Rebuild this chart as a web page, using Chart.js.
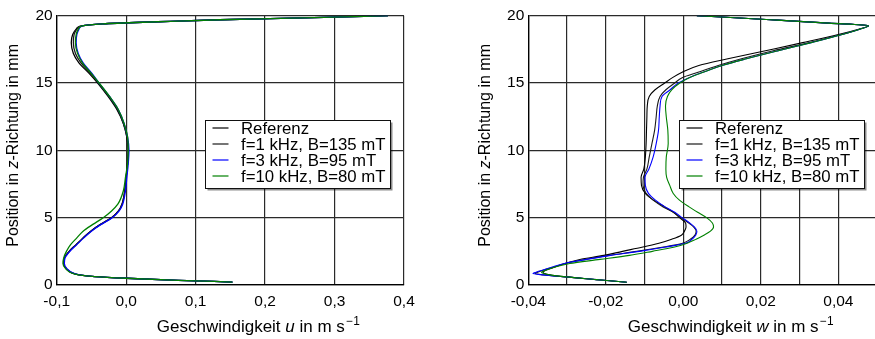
<!DOCTYPE html>
<html lang="de">
<head>
<meta charset="utf-8">
<title>Geschwindigkeitsprofile</title>
<script src="https://cdn.jsdelivr.net/npm/chart.js@4.4.1/dist/chart.umd.min.js"></script>
<style>
  html, body { margin: 0; padding: 0; overflow: hidden; background: #fff; }
  #wrap { position: relative; width: 875px; height: 339px; overflow: hidden; }
  #chartU { position: absolute; left: 0; top: 0; }
  #chartW { position: absolute; left: 440px; top: 0; }
</style>
</head>
<body>
<div id="wrap">
  <canvas id="chartU" width="440" height="339"></canvas>
  <canvas id="chartW" width="445" height="339"></canvas>
</div>
<script>
'use strict';

//***************** Data *****************
const seriesNames = ['Referenz', 'f=1 kHz, B=135 mT', 'f=3 kHz, B=95 mT', 'f=10 kHz, B=80 mT'];
const seriesColors = ['#000000', '#1a1a1a', '#0000ff', '#008000'];

// left plot: position z in mm, velocity u in m/s
const zLeft = [0.22, 0.35, 0.5, 0.62, 0.75, 0.9, 1.2, 1.6, 2.0, 2.5, 3.0, 3.5, 4.0, 4.5, 5.0, 5.5, 6.0, 7.0, 8.0, 9.0,
  10.0, 11.0, 12.0, 13.0, 14.0, 15.0, 15.7, 16.5, 17.2, 18.0, 18.6, 19.0, 19.25, 19.4, 19.55, 19.7, 19.85, 20.0];
const uRef = [0.153, 0.075, 0.0, -0.045, -0.068, -0.078, -0.086, -0.090, -0.089, -0.082, -0.072, -0.062, -0.051, -0.037, -0.021, -0.011, -0.006, -0.002, 0.0, 0.002,
  0.003, 0.001, -0.004, -0.013, -0.026, -0.041, -0.053, -0.068, -0.076, -0.079, -0.077, -0.072, -0.064, -0.034, 0.045, 0.135, 0.27, 0.377];
const u1k = [0.153, 0.075, 0.0, -0.045, -0.068, -0.078, -0.086, -0.090, -0.089, -0.082, -0.072, -0.062, -0.051, -0.037, -0.021, -0.011, -0.006, -0.002, 0.0, 0.002,
  0.003, 0.001, -0.004, -0.012, -0.025, -0.040, -0.051, -0.065, -0.073, -0.076, -0.075, -0.071, -0.064, -0.034, 0.045, 0.135, 0.27, 0.377];
const u3k = [0.153, 0.075, 0.0, -0.045, -0.067, -0.077, -0.085, -0.089, -0.088, -0.081, -0.071, -0.061, -0.050, -0.036, -0.020, -0.010, -0.005, -0.001, 0.001, 0.003,
  0.004, 0.002, -0.003, -0.011, -0.024, -0.039, -0.049, -0.062, -0.069, -0.072, -0.071, -0.068, -0.063, -0.034, 0.045, 0.135, 0.27, 0.377];
const u10k = [0.153, 0.075, 0.0, -0.045, -0.068, -0.079, -0.087, -0.091, -0.090, -0.086, -0.080, -0.071, -0.062, -0.048, -0.033, -0.021, -0.012, -0.004, -0.001, 0.002,
  0.003, 0.002, -0.003, -0.011, -0.024, -0.039, -0.050, -0.063, -0.070, -0.073, -0.072, -0.069, -0.063, -0.034, 0.045, 0.135, 0.27, 0.377];

// right plot: position z in mm, velocity w in m/s
const zRight = [0.2, 0.4, 0.6, 0.75, 0.85, 0.95, 1.1, 1.3, 1.6, 1.9, 2.2, 2.5, 2.8, 3.1, 3.4, 3.7, 4.0, 4.3, 4.6, 5.0,
  5.4, 5.8, 6.3, 6.8, 7.4, 8.0, 8.6, 9.5, 10.5, 11.5, 12.5, 13.3, 14.0, 14.5, 15.0, 15.4, 15.8, 16.3, 16.8, 17.4,
  18.0, 18.6, 19.0, 19.25, 19.45, 19.7, 20.0];
const wRef = [-0.0146, -0.0224, -0.0302, -0.0345, -0.0358, -0.0362, -0.0355, -0.0335, -0.0305, -0.0267, -0.0205, -0.0157, -0.0107, -0.0063, -0.0030, -0.0005, 0.0003, 0.0007, 0.0006, -0.0010,
  -0.0025, -0.0048, -0.0077, -0.0098, -0.0108, -0.0109, -0.0102, -0.0098, -0.0096, -0.0095, -0.0094, -0.0093, -0.0088, -0.0073, -0.0048, -0.0028, -0.0003, 0.0040, 0.0115, 0.0212,
  0.0308, 0.0400, 0.0452, 0.0478, 0.0375, 0.0225, 0.0035];
const w1k = [-0.0146, -0.0224, -0.0302, -0.0360, -0.0383, -0.0376, -0.0362, -0.0338, -0.0305, -0.0252, -0.0192, -0.0120, -0.0055, -0.0002, 0.0018, 0.0030, 0.0033, 0.0027, 0.0014, -0.0006,
  -0.0026, -0.0052, -0.0078, -0.0096, -0.0104, -0.0103, -0.0094, -0.0088, -0.0081, -0.0074, -0.0070, -0.0067, -0.0060, -0.0045, -0.0022, -0.0003, 0.0038, 0.0090, 0.0150, 0.0232,
  0.0325, 0.0408, 0.0455, 0.0478, 0.0375, 0.0225, 0.0035];
const w3k = [-0.0146, -0.0224, -0.0302, -0.0362, -0.0388, -0.0380, -0.0364, -0.0342, -0.0307, -0.0250, -0.0188, -0.0113, -0.0049, 0.0006, 0.0022, 0.0032, 0.0035, 0.0029, 0.0017, -0.0003,
  -0.0022, -0.0047, -0.0072, -0.0090, -0.0098, -0.0099, -0.0089, -0.0078, -0.0070, -0.0064, -0.0062, -0.0060, -0.0055, -0.0034, -0.0013, 0.0015, 0.0051, 0.0100, 0.0163, 0.0245,
  0.0330, 0.0410, 0.0455, 0.0478, 0.0375, 0.0225, 0.0035];
const w10k = [-0.0146, -0.0224, -0.0302, -0.0345, -0.0360, -0.0366, -0.0355, -0.0335, -0.0293, -0.0215, -0.0139, -0.0080, -0.0025, 0.0010, 0.0033, 0.0053, 0.0070, 0.0078, 0.0075, 0.0060,
  0.0037, 0.0015, -0.0010, -0.0026, -0.0035, -0.0043, -0.0045, -0.0044, -0.0039, -0.0040, -0.0044, -0.0046, -0.0041, -0.0030, -0.0009, 0.0015, 0.0051, 0.0100, 0.0163, 0.0245,
  0.0330, 0.0410, 0.0455, 0.0478, 0.0375, 0.0225, 0.0035];

const zTicks = [0, 5, 10, 15, 20];

//***************** Helpers *****************
const FONT = '"Liberation Sans", Arial, Helvetica, sans-serif';
const TICK_SIZE = 15.5;
const XTITLE_SIZE = 17;
const YTITLE_SIZE = 16;
const LEGEND_SIZE = 16.8;

function partFont(p, size) {
  let s = p.sup ? size * 0.7 : size;
  return (p.it ? 'italic ' : '') + s + 'px ' + FONT;
}

// draws text made of plain / italic / superscript pieces, centred on cx
function drawRich(ctx, parts, cx, y, size) {
  let widths = parts.map(p => {
    ctx.font = partFont(p, size);
    return ctx.measureText(p.t).width + (p.sup ? 1.5 : 0);
  });
  let total = widths.reduce((a, b) => a + b, 0);
  let x = cx - total / 2;
  ctx.textAlign = 'left';
  ctx.textBaseline = 'alphabetic';
  parts.forEach((p, i) => {
    ctx.font = partFont(p, size);
    if (p.sup) {
      ctx.fillText(p.t, x + 1.5, y - size * 0.42);
    } else {
      ctx.fillText(p.t, x, y);
    }
    x += widths[i];
  });
}

//***************** Plugins *****************
const axisTitles = {
  id: 'axisTitles',
  afterDraw(chart, args, o) {
    let ctx = chart.ctx;
    let a = chart.chartArea;
    ctx.save();
    ctx.fillStyle = '#000';
    drawRich(ctx, o.x, (a.left + a.right) / 2 + o.xShift, a.bottom + 46.7, XTITLE_SIZE);
    ctx.translate(a.left - 38.5, (a.top + a.bottom) / 2 - 5);
    ctx.rotate(-Math.PI / 2);
    drawRich(ctx, o.y, 0, 0, YTITLE_SIZE);
    ctx.restore();
  }
};

const boxLegend = {
  id: 'boxLegend',
  afterDraw(chart, args, o) {
    let ctx = chart.ctx;
    let a = chart.chartArea;
    let w = 185, h = 68;
    let x0 = Math.round(a.right - o.right - w) + 0.5;
    let y0 = Math.round(a.top + o.top) + 0.5;
    ctx.save();
    ctx.fillStyle = 'rgba(0,0,0,0.45)';
    ctx.fillRect(x0 + 2, y0 + 2, w, h);
    ctx.fillStyle = '#fff';
    ctx.fillRect(x0, y0, w, h);
    ctx.strokeStyle = '#111';
    ctx.lineWidth = 1;
    ctx.strokeRect(x0, y0, w, h);
    ctx.font = LEGEND_SIZE + 'px ' + FONT;
    ctx.textAlign = 'left';
    ctx.textBaseline = 'middle';
    chart.data.datasets.forEach((ds, i) => {
      let cy = y0 + 7.5 + i * 16;
      ctx.strokeStyle = ds.borderColor;
      ctx.lineWidth = 1.2;
      ctx.beginPath();
      ctx.moveTo(x0 + 7, cy);
      ctx.lineTo(x0 + 23, cy);
      ctx.stroke();
      ctx.fillStyle = '#000';
      ctx.fillText(ds.label, x0 + 35.5, cy + 1);
    });
    ctx.restore();
  }
};

//***************** Chart builder *****************
function makeProfileChart(canvasId, zValues, seriesValues, xOpts, lineWidth, box) {
  let datasets = seriesValues.map((vals, i) => ({
    label: seriesNames[i],
    data: zValues.map((z, k) => ({ x: vals[k], y: z })),
    borderColor: seriesColors[i],
    borderWidth: lineWidth,
    pointRadius: 0,
    fill: false,
    cubicInterpolationMode: 'monotone',
    order: 3 - i
  }));

  return new Chart(document.getElementById(canvasId), {
    type: 'line',
    data: { datasets: datasets },
    options: {
      indexAxis: 'y',
      responsive: false,
      animation: false,
      events: [],
      layout: { padding: { left: 0, top: 15.7, right: box.padRight, bottom: 0 } },
      scales: {
        x: {
          type: 'linear',
          position: 'bottom',
          min: xOpts.min,
          max: xOpts.max,
          grid: { color: '#2a2a2a', lineWidth: 1.2, drawTicks: false },
          border: { color: '#000', width: 1.3 },
          ticks: {
            stepSize: xOpts.step,
            autoSkip: false,
            maxRotation: 0,
            padding: 7,
            color: '#000',
            font: { family: FONT, size: TICK_SIZE },
            callback: xOpts.label
          },
          afterFit(s) { s.height = 54; s.paddingLeft = 0; s.paddingRight = 0; }
        },
        y: {
          type: 'linear',
          position: 'left',
          min: 0,
          max: 20,
          grid: { color: '#2a2a2a', lineWidth: 1.2, drawTicks: false },
          border: { color: '#000', width: 1.3 },
          afterBuildTicks(s) { s.ticks = zTicks.map(v => ({ value: v })); },
          ticks: {
            padding: 4,
            color: '#000',
            font: { family: FONT, size: TICK_SIZE },
            callback: v => String(v)
          },
          afterFit(s) { s.width = box.yWidth; s.paddingTop = 0; s.paddingBottom = 0; }
        }
      },
      plugins: {
        legend: { display: false },
        tooltip: { enabled: false },
        boxLegend: { right: box.legendRight, top: 104.3 },
        axisTitles: { x: box.xTitle, y: box.yTitle, xShift: 28 }
      }
    },
    plugins: [boxLegend, axisTitles]
  });
}

const yTitle = [{ t: 'Position in ' }, { t: 'z', it: true }, { t: '-Richtung in mm' }];

makeProfileChart('chartU', zLeft, [uRef, u1k, u3k, u10k], {
  min: -0.1, max: 0.4, step: 0.1,
  label: v => v.toFixed(1).replace('.', ',')
}, 1.3, {
  padRight: 36, yWidth: 56.7, legendRight: 14,
  xTitle: [{ t: 'Geschwindigkeit ' }, { t: 'u', it: true }, { t: ' in m s' }, { t: '\u22121', sup: true }],
  yTitle: yTitle
});

makeProfileChart('chartW', zRight, [wRef, w1k, w3k, w10k], {
  min: -0.04, max: 0.05, step: 0.01,
  label: v => (Math.round(v * 100) % 2 === 0 ? v.toFixed(2).replace('.', ',') : '')
}, 1.1, {
  padRight: 7.9, yWidth: 88.3, legendRight: 13,
  xTitle: [{ t: 'Geschwindigkeit ' }, { t: 'w', it: true }, { t: ' in m s' }, { t: '\u22121', sup: true }],
  yTitle: yTitle
});
</script>
</body>
</html>
